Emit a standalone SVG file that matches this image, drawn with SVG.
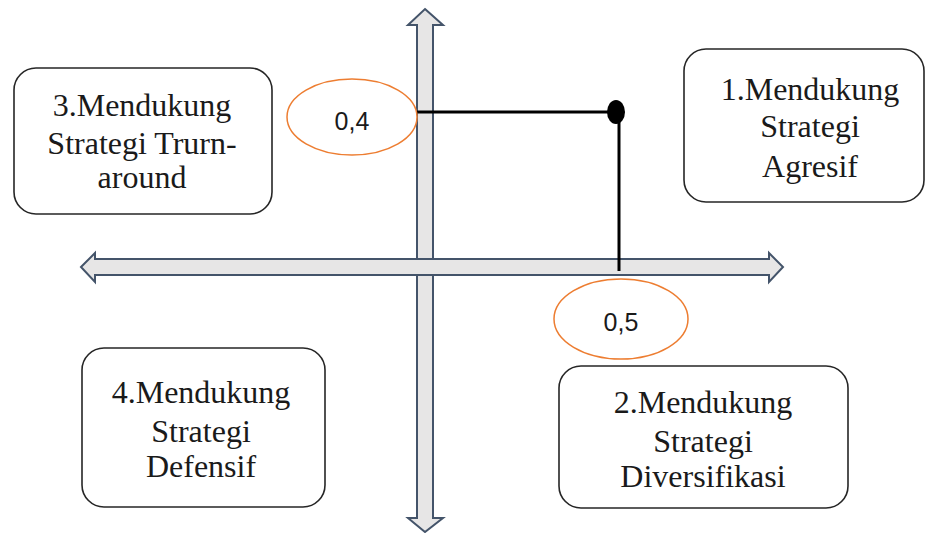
<svg xmlns="http://www.w3.org/2000/svg" width="925" height="533" viewBox="0 0 925 533">
<style>
.axis{fill:#e7e6e6;stroke:#44546a;stroke-width:2;stroke-linejoin:miter}
.box{fill:#ffffff;stroke:#262626;stroke-width:1.6}
.lbl{font-family:"Liberation Serif","Times New Roman",serif;font-size:32px;fill:#1a1a1a;text-anchor:middle}
.val{fill:#ffffff;stroke:#ed7d31;stroke-width:1.5}
.num{font-family:"Liberation Sans",Arial,sans-serif;font-size:25px;fill:#1a1a1a;text-anchor:middle}
.ln{stroke:#000;stroke-width:3;fill:none}
</style>
<rect width="925" height="533" fill="#ffffff"/>
<g id="connectors">
<polygon id="y-axis" class="axis" points="425,9 443,25 433,25 433,518 443,518 425,532 408,518 417,518 417,25 408,25"/>
<polygon id="x-axis" class="axis" points="81,267 95,253 95,259 769,259 769,253 783,267 769,282 769,275 95,275 95,282"/>
<line class="ln" x1="417" y1="112" x2="612" y2="112"/>
<line class="ln" x1="619" y1="112" x2="619" y2="271"/>
<ellipse cx="616" cy="112" rx="9" ry="12" fill="#000"/>
</g>
<g id="node-val-04">
<ellipse class="val" cx="352" cy="117" rx="65" ry="38"/>
<text class="num" x="352" y="130">0,4</text>
</g>
<g id="node-val-05">
<ellipse class="val" cx="621" cy="319" rx="67" ry="40"/>
<text class="num" x="621" y="331">0,5</text>
</g>
<g id="node-3">
<rect class="box" x="14" y="68" width="258" height="146" rx="22"/>
<text class="lbl" x="142" y="116">3.Mendukung</text>
<text class="lbl" x="142" y="154">Strategi Trurn-</text>
<text class="lbl" x="142" y="188">around</text>
</g>
<g id="node-1">
<rect class="box" x="684" y="49" width="240" height="153" rx="22"/>
<text class="lbl" x="810" y="100">1.Mendukung</text>
<text class="lbl" x="810" y="137">Strategi</text>
<text class="lbl" x="810" y="177">Agresif</text>
</g>
<g id="node-4">
<rect class="box" x="82" y="348" width="243" height="159" rx="22"/>
<text class="lbl" x="201" y="403">4.Mendukung</text>
<text class="lbl" x="201" y="442">Strategi</text>
<text class="lbl" x="201" y="477">Defensif</text>
</g>
<g id="node-2">
<rect class="box" x="559" y="366" width="289" height="142" rx="22"/>
<text class="lbl" x="703" y="413">2.Mendukung</text>
<text class="lbl" x="703" y="452">Strategi</text>
<text class="lbl" x="703" y="487">Diversifikasi</text>
</g>
</svg>
